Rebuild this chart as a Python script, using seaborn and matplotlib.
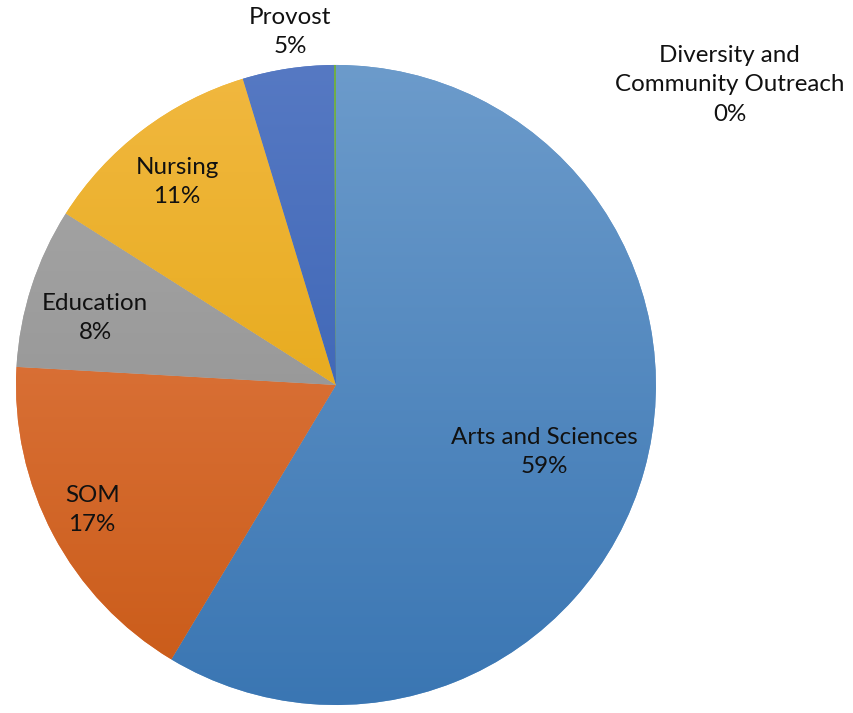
import numpy as np
import seaborn as sns
import matplotlib.pyplot as plt

# share of the total by school (percent)
schools = ["Arts and Sciences", "SOM", "Education", "Nursing", "Provost",
           "Diversity and\nCommunity Outreach"]
shares = [58.6, 17.3, 8.1, 11.3, 4.6, 0.1]
pct_text = ["59%", "17%", "8%", "11%", "5%", "0%"]

# light (top) / dark (bottom) shade of each wedge
top_cols = ["#6c9bcb", "#e6824f", "#a9a9a9", "#f1b840", "#5679c3", "#70ad47"]
bot_cols = ["#3a76b3", "#c95a17", "#8a8a8a", "#dfa000", "#2d59ad", "#70ad47"]

# where each data label sits, in pie-radius units
label_xy = [(0.65, -0.209), (-0.762, -0.391), (-0.753, 0.209),
            (-0.497, 0.634), (-0.144, 1.103), (1.231, 0.938)]

sns.set_style("white")
plt.rcParams["font.family"] = ["Lato", "DejaVu Sans"]

fig = plt.figure(figsize=(8.54, 7.13), dpi=100)
ax = fig.add_axes([0, 0, 1, 1])

wedges, _ = ax.pie(shares, colors=top_cols, startangle=90, counterclock=False,
                   radius=1.0, wedgeprops=dict(linewidth=0))

grad = np.linspace(0, 1, 256).reshape(-1, 1)
for w, c1, c2 in zip(wedges, top_cols, bot_cols):
    cmap = sns.blend_palette([c1, c2], as_cmap=True)
    im = ax.imshow(grad, extent=[-1, 1, -1, 1], cmap=cmap, aspect="auto",
                   origin="upper", zorder=w.get_zorder() + 0.1)
    im.set_clip_path(w)

for name, pct, (x, y) in zip(schools, pct_text, label_xy):
    ax.text(x, y, name + "\n" + pct, ha="center", va="center", fontsize=17.4,
            color="#111111", linespacing=1.49, zorder=10)

ax.set_xlim(-1.05, 1.619)
ax.set_ylim(-1.025, 1.203)
ax.set_aspect("auto")
ax.axis("off")

fig.savefig("out.png", dpi=100, facecolor="white")
